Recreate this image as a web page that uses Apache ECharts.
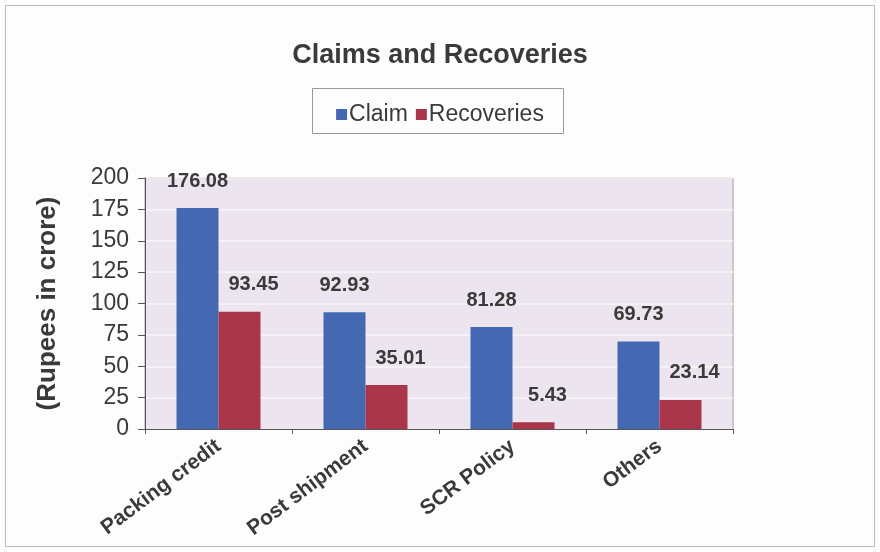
<!DOCTYPE html>
<html><head><meta charset="utf-8">
<script src="https://cdn.jsdelivr.net/npm/echarts@6/dist/echarts.min.js"></script>
<style>html,body{margin:0;padding:0;background:#fff}#c{width:880px;height:552px}</style>
</head><body><div id="c"></div>
<script>
const categories = ['Packing credit', 'Post shipment', 'SCR Policy', 'Others'];
const claim = [176.08, 92.93, 81.28, 69.73];
const recoveries = [93.45, 35.01, 5.43, 23.14];
const seriesNames = ['Claim', 'Recoveries'];

const chart = echarts.init(document.getElementById('c'));
const FONT = '"Liberation Sans", Arial, sans-serif';
chart.setOption({
  backgroundColor: '#fdfdfd',
  animation: false,
  graphic: [
    {type: 'rect', shape: {x: 5.5, y: 5.5, width: 869, height: 541}, style: {fill: 'none', stroke: '#b8b8b8', lineWidth: 1}},
    {type: 'rect', shape: {x: 312.5, y: 88.5, width: 251, height: 45}, style: {fill: 'none', stroke: '#9a9a9a', lineWidth: 1}}
  ],
  title: {
    text: 'Claims and Recoveries', left: 'center', top: 37,
    textStyle: {fontFamily: FONT, fontSize: 27, fontWeight: 'bold', color: '#3a3a3a'}
  },
  legend: {
    data: seriesNames, top: 98, left: 'center', itemWidth: 11, itemHeight: 11, itemGap: 8,
    icon: 'rect',
    textStyle: {fontFamily: FONT, fontSize: 23, color: '#3a3a3a', padding: [0, 0, 0, -3]}
  },
  grid: {left: 145, right: 147, top: 178, bottom: 123, show: true, backgroundColor: '#ece5ef', borderColor: '#a0a0a0', borderWidth: 1},
  xAxis: {
    type: 'category', data: categories,
    axisLine: {lineStyle: {color: '#555'}},
    axisTick: {show: true, length: 5, lineStyle: {color: '#555'}},
    axisLabel: {rotate: 37, margin: 15, fontFamily: FONT, fontSize: 21, color: '#3a3a3a', fontWeight: 'bold'}
  },
  yAxis: {
    type: 'value', min: 0, max: 200, interval: 25,
    name: '(Rupees in crore)', nameLocation: 'middle', nameGap: 84, nameRotate: 90,
    nameTextStyle: {fontFamily: FONT, fontSize: 26, fontWeight: 'bold', color: '#3a3a3a'},
    axisLine: {show: true, lineStyle: {color: '#555'}},
    axisTick: {show: true, length: 7, lineStyle: {color: '#555'}},
    axisLabel: {margin: 16, fontFamily: FONT, fontSize: 23, color: '#3a3a3a'},
    splitLine: {show: true, lineStyle: {color: '#f8f4f8', width: 1.5}}
  },
  series: [
    {
      name: 'Claim', type: 'bar', data: claim, barWidth: 42, barGap: '0%',
      itemStyle: {color: '#4568b3'},
      label: {show: true, position: 'top', distance: 17, fontFamily: FONT, fontSize: 20, fontWeight: 'bold', color: '#3a3a3a'}
    },
    {
      name: 'Recoveries', type: 'bar', data: recoveries, barWidth: 42,
      itemStyle: {color: '#a9364b'},
      label: {show: true, position: 'top', distance: 17, offset: [14, 0], fontFamily: FONT, fontSize: 20, fontWeight: 'bold', color: '#3a3a3a'}
    }
  ]
});
</script></body></html>
